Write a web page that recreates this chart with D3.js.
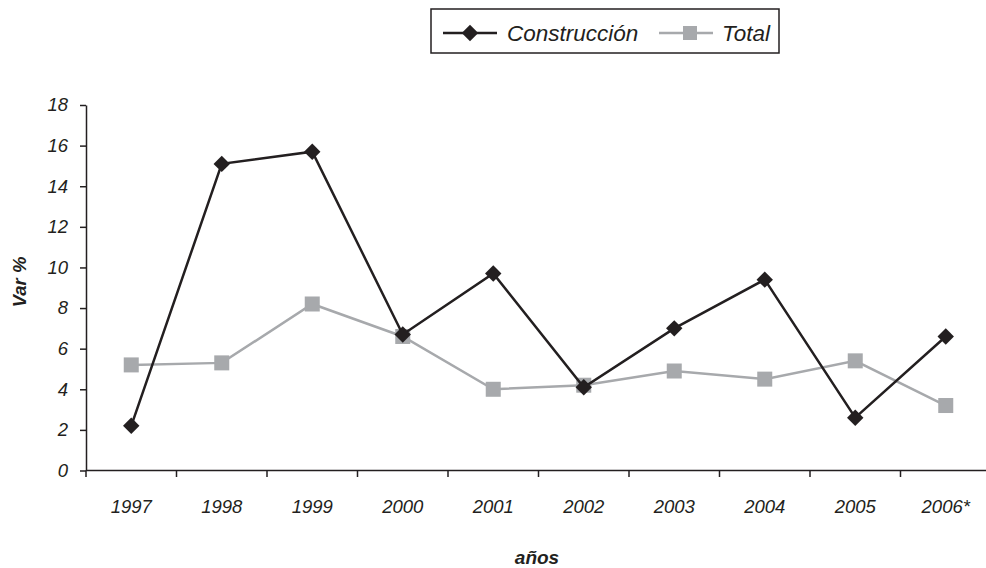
<!DOCTYPE html>
<html><head><meta charset="utf-8">
<script src="https://cdn.jsdelivr.net/npm/d3@7"></script>
<style>
body{margin:0;background:#fff;}
svg{display:block;font-family:"Liberation Sans",Arial,sans-serif;}
</style></head>
<body>
<svg id="c" width="986" height="568"></svg>
<script>
const years = ["1997","1998","1999","2000","2001","2002","2003","2004","2005","2006*"];
const construccion = [2.2, 15.1, 15.7, 6.7, 9.7, 4.1, 7.0, 9.4, 2.6, 6.6];
const total = [5.2, 5.3, 8.2, 6.6, 4.0, 4.2, 4.9, 4.5, 5.4, 3.2];
const yTicks = [0,2,4,6,8,10,12,14,16,18];

const dark = "#231f20", gray = "#a7a9ac";
const svg = d3.select("#c");
const x = d3.scaleBand().domain(years).range([86, 991]);
const y = d3.scaleLinear().domain([0,18]).range([470.5,105]);

// y axis
const ya = svg.append("g").attr("transform","translate(86,0)")
  .call(d3.axisLeft(y).tickValues(yTicks).tickSize(6).tickPadding(12).tickSizeOuter(0));
ya.select(".domain").attr("stroke",dark).attr("stroke-width",1.5);
ya.selectAll(".tick line").attr("stroke",dark).attr("stroke-width",1.5);
ya.selectAll(".tick text").attr("font-size",18.5).attr("font-style","italic")
  .attr("fill",dark).attr("font-family","Liberation Sans, Arial, sans-serif");

// x axis
const xa = svg.append("g").attr("transform","translate(0,470.5)")
  .call(d3.axisBottom(x).tickSize(0).tickPadding(29).tickSizeOuter(0));
xa.select(".domain").remove();
xa.selectAll(".tick text").attr("font-size",18.5).attr("font-style","italic")
  .attr("fill",dark).attr("font-family","Liberation Sans, Arial, sans-serif");
svg.append("line").attr("x1",86).attr("x2",986).attr("y1",470.5).attr("y2",470.5)
  .attr("stroke",dark).attr("stroke-width",1.5);
svg.append("g").selectAll("line").data(years).join("line")
  .attr("x1",d=>x(d)).attr("x2",d=>x(d)).attr("y1",470.5).attr("y2",477)
  .attr("stroke",dark).attr("stroke-width",1.5);

// axis titles
svg.append("text").attr("transform","translate(26,282) rotate(-90)")
  .attr("text-anchor","middle").attr("font-size",18.5).attr("font-weight","bold")
  .attr("font-style","italic").attr("fill",dark).text("Var %");
svg.append("text").attr("x",537).attr("y",564).attr("text-anchor","middle")
  .attr("font-size",19).attr("font-weight","bold").attr("font-style","italic")
  .attr("fill",dark).text("años");

const cx = (d,i)=>x(years[i]) + x.bandwidth()/2;
const line = d3.line().x(cx).y(d=>y(d));

// Total
svg.append("path").datum(total).attr("d",line).attr("fill","none")
  .attr("stroke",gray).attr("stroke-width",2.5);
svg.append("g").selectAll("rect").data(total).join("rect")
  .attr("x",(d,i)=>cx(d,i)-7.5).attr("y",d=>y(d)-7.5).attr("width",15).attr("height",15)
  .attr("fill",gray);

// Construcción
svg.append("path").datum(construccion).attr("d",line).attr("fill","none")
  .attr("stroke",dark).attr("stroke-width",2.5);
const diamond = d3.symbol().type(d3.symbolSquare).size(135);
svg.append("g").selectAll("path").data(construccion).join("path")
  .attr("d",diamond())
  .attr("transform",(d,i)=>`translate(${cx(d,i)},${y(d)}) rotate(45)`)
  .attr("fill",dark);

// legend
const lg = svg.append("g");
lg.append("rect").attr("x",431).attr("y",9).attr("width",348).attr("height",44)
  .attr("fill","#fff").attr("stroke",dark).attr("stroke-width",1.5);
lg.append("line").attr("x1",443).attr("x2",497).attr("y1",33).attr("y2",33)
  .attr("stroke",dark).attr("stroke-width",2.5);
lg.append("path").attr("d",diamond()).attr("transform","translate(470,33) rotate(45)").attr("fill",dark);
lg.append("text").attr("x",507).attr("y",41).attr("font-size",22.5).attr("font-style","italic")
  .attr("fill",dark).text("Construcción");
lg.append("line").attr("x1",659).attr("x2",713).attr("y1",33).attr("y2",33)
  .attr("stroke",gray).attr("stroke-width",2.5);
lg.append("rect").attr("x",683).attr("y",26).attr("width",14).attr("height",14).attr("fill",gray);
lg.append("text").attr("x",722).attr("y",41).attr("font-size",22.5).attr("font-style","italic")
  .attr("fill",dark).text("Total");
</script>
</body></html>
